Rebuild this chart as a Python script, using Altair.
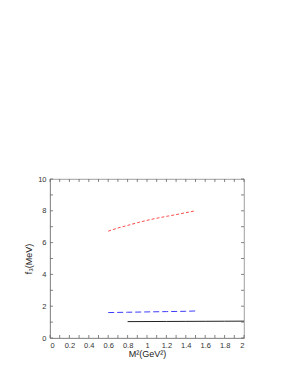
import altair as alt
import pandas as pd

red_x = [0.6, 0.7, 0.8, 0.9, 1.0, 1.1, 1.2, 1.3, 1.4, 1.5]
red_y = [6.72, 6.92, 7.08, 7.25, 7.40, 7.53, 7.65, 7.76, 7.88, 8.00]
blue_x = [0.6, 0.8, 1.0, 1.2, 1.4, 1.5]
blue_y = [1.60, 1.62, 1.64, 1.66, 1.68, 1.70]
black_x = [0.8, 1.0, 1.2, 1.4, 1.6, 1.8, 2.0]
black_y = [1.03, 1.035, 1.04, 1.045, 1.05, 1.055, 1.06]

x_major = [0, 0.2, 0.4, 0.6, 0.8, 1, 1.2, 1.4, 1.6, 1.8, 2]
x_minor = [i / 10 for i in range(21)]
y_major = [0, 2, 4, 6, 8, 10]
y_minor = list(range(11))

W, H = 194, 159

rows = []
for s, xs_, ys_ in [("red", red_x, red_y), ("blue", blue_x, blue_y), ("black", black_x, black_y)]:
    for a, b in zip(xs_, ys_):
        rows.append({"s": s, "x": a, "y": b})
df = pd.DataFrame(rows)
xt = pd.DataFrame({"x": x_minor})
yt = pd.DataFrame({"y": y_minor})

xs = alt.Scale(domain=[0, 2], nice=False)
ys = alt.Scale(domain=[0, 10], nice=False)

lab = dict(labelFont="Liberation Sans", labelFontSize=7.5, labelColor="#333333",
           domainColor="#888888", domainWidth=0.8, titleFont="Liberation Sans", titleFontSize=9,
           titleFontWeight="normal", titleColor="#222222", grid=False, ticks=False,
           labelOverlap=False)

xaxis = alt.Axis(orient="bottom", values=x_major, labelPadding=3, format="~g",
                 title="M²(GeV²)", titlePadding=1, **lab)
yaxis = alt.Axis(orient="left", values=y_major, labelPadding=4, format="d",
                 title="f₃(MeV)", titlePadding=4, **lab)

def X():
    return alt.X("x:Q", scale=xs, axis=xaxis)

def Y():
    return alt.Y("y:Q", scale=ys, axis=yaxis)

def line(s, color, dash=None):
    kw = dict(color=color, strokeWidth=1)
    if dash:
        kw["strokeDash"] = dash
    return alt.Chart(df[df.s == s]).mark_line(**kw).encode(x=X(), y=Y())

TC = "#666666"
TL = 3
tick_bottom = alt.Chart(xt).mark_rule(color=TC, strokeWidth=0.8).encode(
    x=X(), y=alt.value(H), y2=alt.value(H - TL))
tick_top = alt.Chart(xt).mark_rule(color=TC, strokeWidth=0.8).encode(
    x=X(), y=alt.value(0), y2=alt.value(TL))
tick_left = alt.Chart(yt).mark_rule(color=TC, strokeWidth=0.8).encode(
    y=Y(), x=alt.value(0), x2=alt.value(TL))
tick_right = alt.Chart(yt).mark_rule(color=TC, strokeWidth=0.8).encode(
    y=Y(), x=alt.value(W), x2=alt.value(W - TL))

chart = alt.layer(
    line("red", "#ff4d4d", [3, 2]),
    line("blue", "#3d3dff", [6, 3]),
    line("black", "#222222"),
    tick_bottom, tick_top, tick_left, tick_right,
).properties(
    width=W, height=H,
    autosize=alt.AutoSizeParams(type="none"),
    padding={"left": 42, "top": 171, "right": 30, "bottom": 40},
).configure_view(stroke="#888888", strokeWidth=0.8)

chart.save("out.html", embed_options={"renderer": "svg", "actions": False})
